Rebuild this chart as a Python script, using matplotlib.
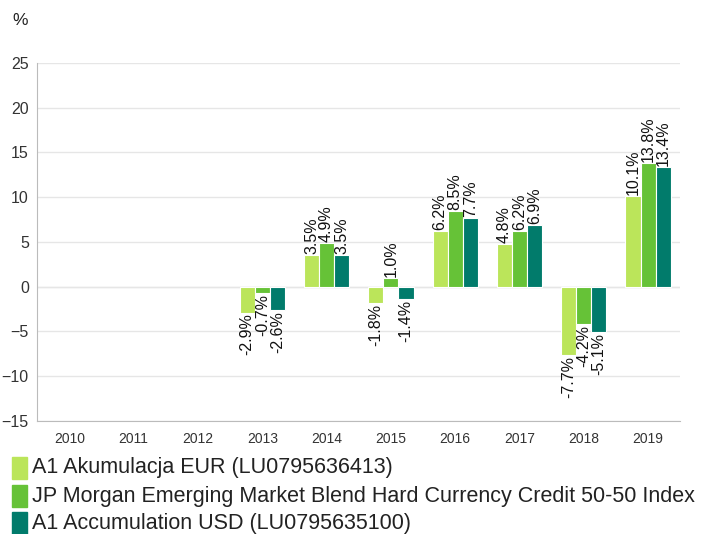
import numpy as np
import matplotlib.pyplot as plt

years = ["2010", "2011", "2012", "2013", "2014", "2015", "2016", "2017", "2018", "2019"]
fund_eur = [np.nan, np.nan, np.nan, -2.9, 3.5, -1.8, 6.2, 4.8, -7.7, 10.1]
benchmark = [np.nan, np.nan, np.nan, -0.7, 4.9, 1.0, 8.5, 6.2, -4.2, 13.8]
fund_usd = [np.nan, np.nan, np.nan, -2.6, 3.5, -1.4, 7.7, 6.9, -5.1, 13.4]

series_names = [
    "A1 Akumulacja EUR (LU0795636413)",
    "JP Morgan Emerging Market Blend Hard Currency Credit 50-50 Index",
    "A1 Accumulation USD (LU0795635100)",
]
colors = ["#bbe55a", "#66c237", "#017b6b"]

plt.rcParams["font.family"] = ["Liberation Sans", "DejaVu Sans"]

fig = plt.figure(figsize=(7.02, 5.34), dpi=100)
ax = fig.add_axes([0.053, 0.212, 0.916, 0.670])

x = np.arange(len(years))
width = 0.235
offsets = [-width, 0, width]

for vals, off, col in zip([fund_eur, benchmark, fund_usd], offsets, colors):
    ax.bar(x + off, vals, width, color=col, edgecolor="white", linewidth=0.8, zorder=3)
    for xi, v in zip(x + off, vals):
        if np.isnan(v):
            continue
        ax.text(xi, v + (0.1 if v >= 0 else -0.1), f"{v:.1f}%",
                rotation=90, ha="center", va="bottom" if v >= 0 else "top",
                fontsize=11.5, color="#111111", zorder=4)

ax.set_xlim(-0.5, len(years) - 0.5)
ax.set_ylim(-15, 25)
ax.set_yticks(range(-15, 26, 5))
ax.set_xticks(x)
ax.set_xticklabels(years)
ax.tick_params(axis="x", length=0, labelsize=10, colors="#333333", pad=8)
ax.tick_params(axis="y", length=0, labelsize=11.5, colors="#333333", pad=6)

ax.grid(axis="y", color="#e6e6e6", linewidth=1, zorder=0)
ax.axhline(0, color="#e6e6e6", linewidth=1, zorder=1)
for side in ["top", "right"]:
    ax.spines[side].set_visible(False)
ax.spines["left"].set_color("#bbbbbb")
ax.spines["bottom"].set_color("#bbbbbb")

fig.text(0.017, 0.962, "%", fontsize=12.5, color="#222222", va="center")

# legend rows below the axes
legend_y = [0.124, 0.071, 0.020]
for name, col, ly in zip(series_names, colors, legend_y):
    fig.patches.append(plt.Rectangle((0.017, ly - 0.021), 0.021, 0.042,
                                     transform=fig.transFigure, color=col))
    fig.text(0.046, ly, name, fontsize=15.5, color="#222222", va="center")

fig.savefig("out.png", dpi=100)
